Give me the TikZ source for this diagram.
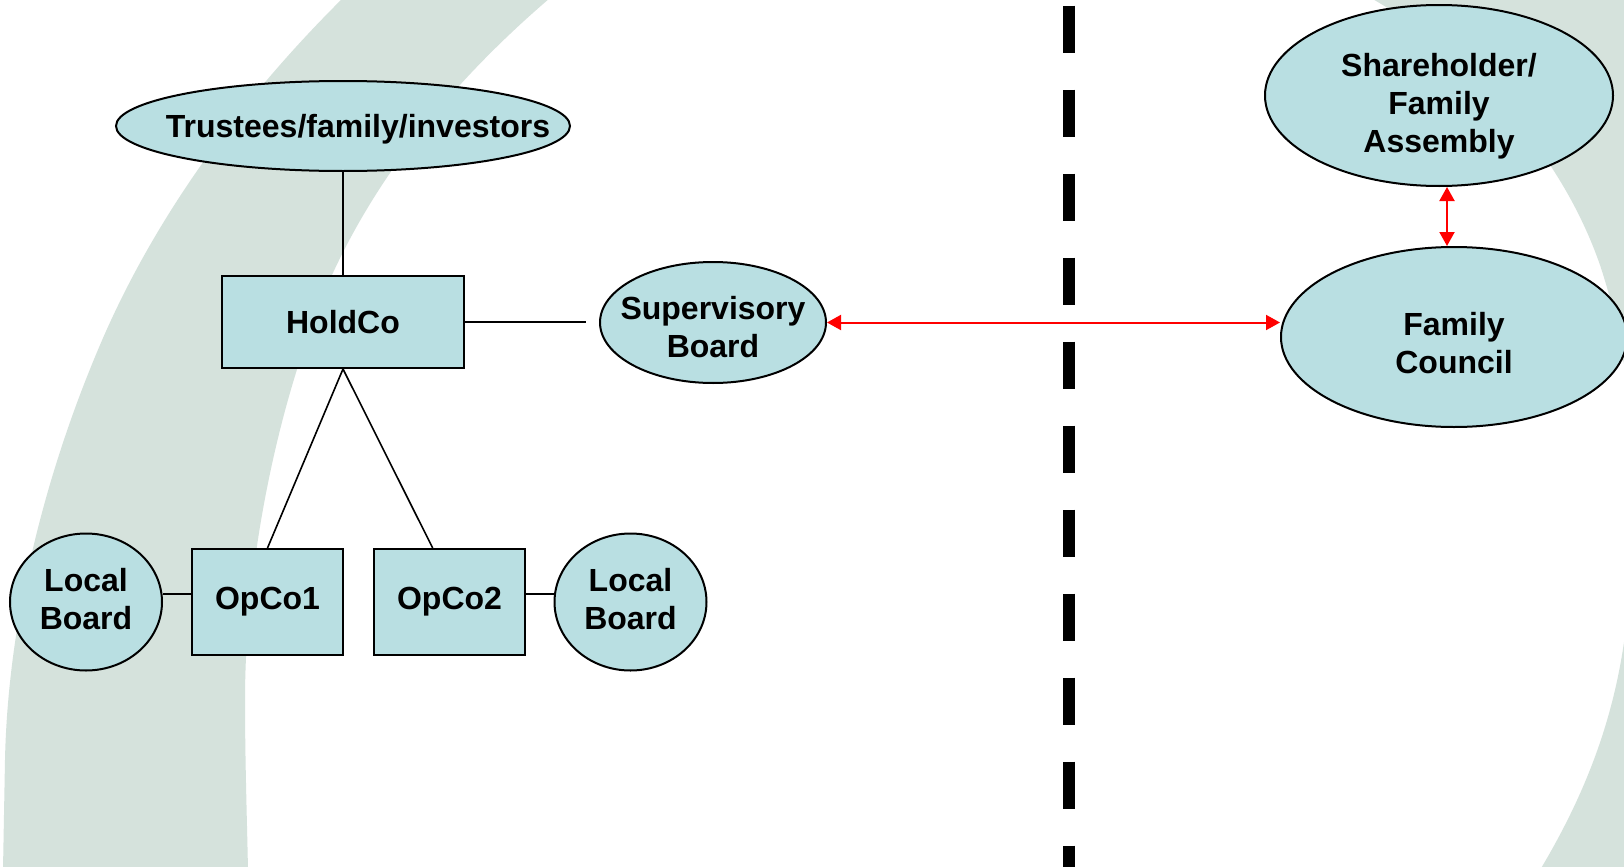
\documentclass[tikz,border=0pt]{standalone}
\usepackage{fontspec}
\setmainfont{Liberation Sans}
\usetikzlibrary{shapes.geometric,arrows.meta,calc}
\definecolor{bandgray}{RGB}{213,226,220}
\definecolor{boxfill}{RGB}{185,223,226}
\definecolor{linkred}{RGB}{255,0,0}

\begin{document}
\begin{tikzpicture}[x=0.5pt,y=-0.5pt,
  every node/.style={font=\fontsize{16pt}{19pt}\selectfont\bfseries},
  unit/.style={draw=black, line width=1pt, fill=boxfill, rectangle, inner sep=0pt, align=center},
  body/.style={draw=black, line width=1pt, fill=boxfill, ellipse, inner sep=0pt},
  caption/.style={align=center, inner sep=0pt},
  link/.style={line width=0.8pt},
  relation/.style={draw=linkred, line width=1pt,
    {Triangle[length=7pt,width=7.5pt]}-{Triangle[length=7pt,width=7.5pt]}},
  divider/.style={line width=6pt, dash pattern=on 23.5pt off 18.5pt}
]
% canvas
\path[use as bounding box] (0,0) rectangle (1624,867);
\fill[white] (0,0) rectangle (1624,867);

% decorative swoosh in the background
\begin{scope}
  \clip (0,0) rectangle (1624,867);
  % left arc of the swoosh
  \fill[bandgray]
    (343,-2) .. controls (242,98) and (155,216) .. (100,345)
             .. controls (45,474) and (8,620) .. (5,760)
             -- (3,870) -- (248,870)
             .. controls (247,820) and (245,760) .. (245,700)
             .. controls (245,590) and (266,465) .. (300,360)
             .. controls (340,225) and (425,105) .. (550,-2)
             -- cycle;
  % upper right part
  \fill[bandgray]
    (1371,-2) .. controls (1470,55) and (1560,150) .. (1600,265)
              .. controls (1615,310) and (1625,360) .. (1632,420)
              -- (1632,-2) -- cycle;
  % lower right part
  \fill[bandgray]
    (1630,580) .. controls (1625,680) and (1600,770) .. (1540,870)
               -- (1632,870) -- cycle;
\end{scope}

% dividing line between business and family side
\draw[divider] (1069,5.5) -- (1069,867);

% business side
\node[body, minimum width=227pt, minimum height=45pt,
      label={[caption, xshift=7.5pt, yshift=-1.5pt]center:Trustees/family/investors}] (tr) at (343,126) {};
\node[unit, minimum width=121pt, minimum height=46pt] (hc) at (343,322) {HoldCo};
\node[body, minimum width=113pt, minimum height=60.5pt,
      label={[caption, yshift=-2.5pt]center:Supervisory\\Board}] (sb) at (713,322.5) {};
\node[unit, minimum width=75.5pt, minimum height=53pt] (op1) at (267.5,602) {OpCo1};
\node[unit, minimum width=75.5pt, minimum height=53pt] (op2) at (449.5,602) {OpCo2};
\node[body, minimum width=76pt, minimum height=68.5pt,
      label={[caption, yshift=1.5pt]center:Local\\Board}] (lb1) at (86,602) {};
\node[body, minimum width=76pt, minimum height=68.5pt,
      label={[caption, yshift=1.5pt]center:Local\\Board}] (lb2) at (630.5,602) {};

% family side
\node[body, minimum width=174pt, minimum height=90.5pt,
      label={[caption, yshift=-5.5pt]center:Shareholder/\\Family\\Assembly}] (sh) at (1439,95.5) {};
\node[body, minimum width=173pt, minimum height=90pt,
      label={[caption, yshift=-3pt]center:Family\\Council}] (fc) at (1454,337) {};

% connectors
\coordinate (sbgap) at (586,322);
\draw[link] (tr.south) -- (hc.north);
\draw[link] (hc.east) -- (sbgap);
\draw[link] (hc.south) -- (op1.north);
\draw[link] (hc.south) -- ($(op2.north west)!0.39!(op2.north east)$);
\draw[link] ([yshift=4pt]lb1.east) -- ([yshift=4pt]op1.west);
\draw[link] ([yshift=4pt]op2.east) -- ([yshift=4pt]lb2.west);

% relations between the two sides
\draw[relation] (sb.east) -- (sb.east -| fc.west);
\draw[relation] ([xshift=4pt]sh.south) -- ([xshift=-3.5pt]fc.north);
\end{tikzpicture}
\end{document}
